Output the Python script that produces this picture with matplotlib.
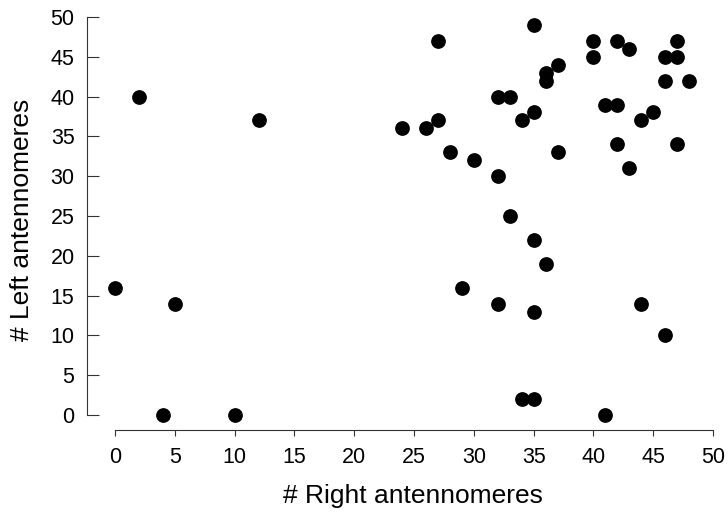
import matplotlib.pyplot as plt

plt.rcParams["font.family"] = ["Liberation Sans", "DejaVu Sans"]

# antennomere counts per specimen
right_ant = [2, 12, 0, 5, 4, 10,
             24, 26, 27, 27, 28, 30, 29, 32, 33, 32, 32, 33, 34, 35,
             35, 35, 35, 34, 35, 36, 36, 37, 37, 36,
             40, 40, 41, 42, 42, 43, 42, 43, 44, 45, 44,
             46, 47, 47, 46, 48, 47, 46, 41]
left_ant = [40, 37, 16, 14, 0, 0,
            36, 36, 37, 47, 33, 32, 16, 40, 40, 30, 14, 25, 37, 38,
            49, 22, 13, 2, 2, 43, 42, 44, 33, 19,
            47, 45, 39, 39, 47, 46, 34, 31, 37, 38, 14,
            45, 45, 47, 42, 42, 34, 10, 0]
ticks = list(range(0, 51, 5))

W, H = 728, 514
fig = plt.figure(figsize=(W / 100, H / 100), dpi=100)
# plot region in pixels: left 87, right 725, top 9, bottom 430
ax = fig.add_axes([87 / W, (H - 430) / H, (725 - 87) / W, (430 - 9) / H])

ax.plot(right_ant, left_ant, "o", color="black", ms=9.6, clip_on=False)

ax.set_xlim(-2.34, 51)
ax.set_ylim(-1.88, 51)
ax.set_xticks(ticks)
ax.set_yticks(ticks)

axcol = "#333333"
for s in ["top", "right"]:
    ax.spines[s].set_visible(False)
ax.spines["left"].set_bounds(0, 50)
ax.spines["bottom"].set_bounds(0, 50)
for s in ["left", "bottom"]:
    ax.spines[s].set_color(axcol)
    ax.spines[s].set_linewidth(0.8)

ax.tick_params(axis="y", direction="in", length=8.6, width=0.8, color=axcol,
               pad=9, labelsize=15.5)
ax.tick_params(axis="x", direction="out", length=4.3, width=0.8, color=axcol,
               pad=8, labelsize=15.5)

ax.set_xlabel("# Right antennomeres", fontsize=19)
ax.set_ylabel("# Left antennomeres", fontsize=19, labelpad=12)
ax.xaxis.set_label_coords(0.511, -0.128)

fig.savefig("out.png", dpi=100)
